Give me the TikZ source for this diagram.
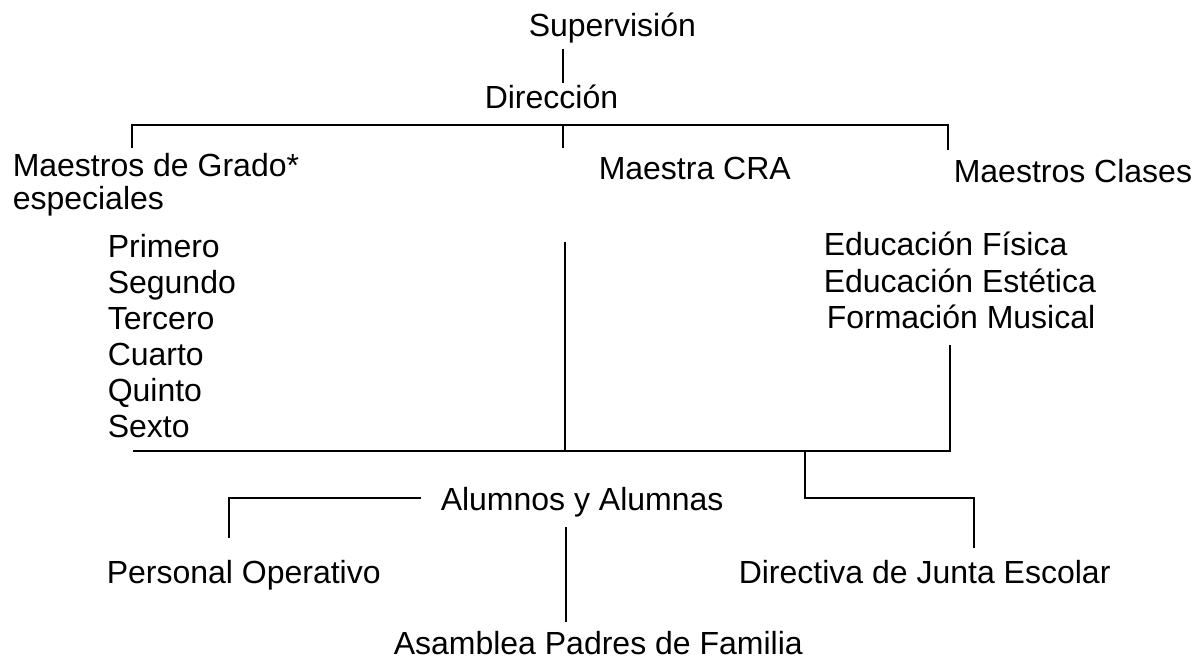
\documentclass[tikz,border=0pt]{standalone}
\usepackage{fontspec}
\setmainfont{Liberation Sans}
\begin{document}
\begin{tikzpicture}[x=1pt, y=-1pt, line width=1.5pt,
  lbl/.style={anchor=base west, inner sep=0pt, font=\fontsize{32}{37}\selectfont}]
  \useasboundingbox (0,0) rectangle (1199,659);
  \node[lbl] (sup) at (528,36) {Supervisión};
  \node[lbl] (dir) at (484,108) {Dirección};
  \node[lbl] (grado) at (12,176) {Maestros de Grado*};
  \node[lbl] (esp) at (12,209) {especiales};
  \node[lbl] (cra) at (598,179) {Maestra CRA};
  \node[lbl] (clases) at (953,182) {Maestros Clases};
  \foreach \g [count=\i from 0] in {Primero,Segundo,Tercero,Cuarto,Quinto,Sexto}
    \node[lbl] (g\i) at (107,257+36*\i) {\g};
  \node[lbl] (fis) at (823,255) {Educación Física};
  \node[lbl] (est) at (823,292) {Educación Estética};
  \node[lbl] (mus) at (826,328) {Formación Musical};
  \node[lbl] (alum) at (440,510) {Alumnos y Alumnas};
  \node[lbl] (oper) at (106,583) {Personal Operativo};
  \node[lbl] (junta) at (738,583) {Directiva de Junta Escolar};
  \node[lbl] (asam) at (393,654) {Asamblea Padres de Familia};
  \coordinate (s1) at (563,49);   \coordinate (s2) at (563,83);
  \coordinate (t1) at (132,125);  \coordinate (t2) at (948,125);
  \coordinate (tm) at (563,125);
  \coordinate (d1) at (132,148);  \coordinate (d2) at (563,148);
  \coordinate (d3) at (948,150);
  \coordinate (c1) at (565,242);  \coordinate (c2) at (565,451);
  \coordinate (m1) at (950,345);  \coordinate (m2) at (950,451);
  \coordinate (b1) at (133,451);
  \coordinate (j1) at (805,451);  \coordinate (j2) at (974,498);
  \coordinate (j3) at (974,548);
  \coordinate (p1) at (421,498);  \coordinate (p2) at (229,538);
  \coordinate (v1) at (566,527);  \coordinate (v2) at (566,622);
  \draw (s1) -- (s2);
  \draw (d1) -- (t1) -- (t2) -- (d3);
  \draw (tm) -- (d2);
  \draw (c1) -- (c2);
  \draw (m1) -- (m2) -- (b1);
  \draw (j1) |- (j2) -- (j3);
  \draw (p1) -| (p2);
  \draw (v1) -- (v2);
\end{tikzpicture}
\end{document}
